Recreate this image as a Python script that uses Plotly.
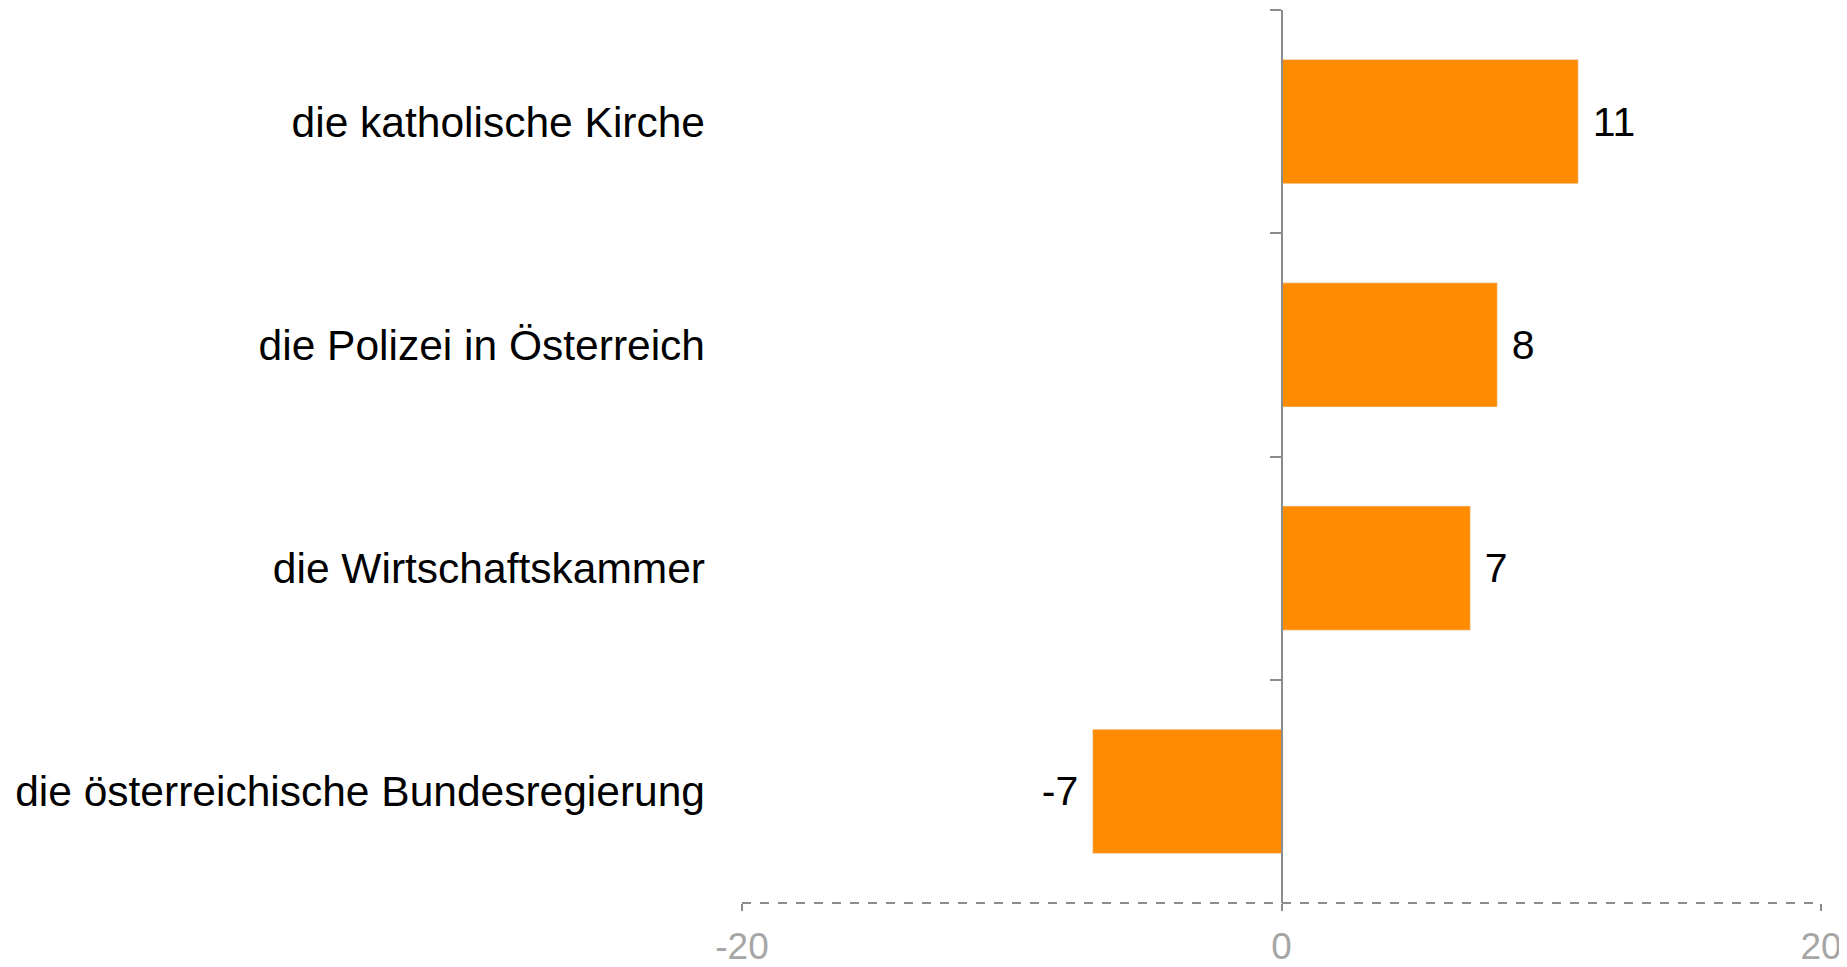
import plotly.graph_objects as go

categories = [
    "die katholische Kirche",
    "die Polizei in Österreich",
    "die Wirtschaftskammer",
    "die österreichische Bundesregierung",
]
values = [11, 8, 7, -7]
x_ticks = [-20, 0, 20]
x_tick_text = ["-20", "0", "20"]

bar_color = "#FF8C00"
axis_color = "#8c8c8c"
tick_label_color = "#a6a6a6"
font_family = "Liberation Sans, Arial, sans-serif"

labels = [f" {v}" if v >= 0 else f"{v} " for v in values]

fig = go.Figure()
fig.add_trace(go.Bar(
    x=values, y=categories, orientation="h",
    marker=dict(color=bar_color, line=dict(width=0)),
    text=labels, textposition="outside", cliponaxis=False,
    textfont=dict(family=font_family, size=41, color="#000000"),
    hoverinfo="skip", showlegend=False,
))
# invisible trace to carry the centre axis (line at x=0 with boundary ticks)
fig.add_trace(go.Bar(
    x=values, y=categories, orientation="h", yaxis="y2",
    marker=dict(color="rgba(0,0,0,0)"), hoverinfo="skip", showlegend=False,
))

# the page body has an 8px margin, so the figure is sized to end at the window edge
fig.update_layout(
    width=1839, height=959,
    margin=dict(l=734, r=26, t=2, b=64, autoexpand=False),
    paper_bgcolor="white", plot_bgcolor="white",
    bargap=0.444,
    font=dict(family=font_family),
    xaxis=dict(
        range=[-20, 20], tickvals=x_ticks, ticktext=x_tick_text,
        showgrid=False, zeroline=False, automargin=False,
        showline=False, ticks="outside", ticklen=7, tickwidth=1.5,
        tickcolor=axis_color,
        tickfont=dict(family=font_family, size=37, color=tick_label_color),
        ticklabelstandoff=4,
    ),
    yaxis=dict(
        type="category", autorange="reversed", showgrid=False, zeroline=False,
        showline=False, ticks="", automargin=False,
        tickfont=dict(family=font_family, size=42.5, color="#000000"),
        ticklabelstandoff=36,
    ),
    yaxis2=dict(
        type="category", overlaying="y", matches="y", anchor="free", position=0.5,
        side="left", showgrid=False, zeroline=False, showline=True, automargin=False,
        linecolor=axis_color, linewidth=2, ticks="outside", tickson="boundaries",
        ticklen=11, tickwidth=2, tickcolor=axis_color, showticklabels=False,
    ),
    shapes=[dict(
        type="line", xref="paper", yref="paper", x0=0, x1=1, y0=0, y1=0,
        line=dict(color=axis_color, width=2, dash="dash"), layer="above",
    )],
)

fig.write_html("out.html")
